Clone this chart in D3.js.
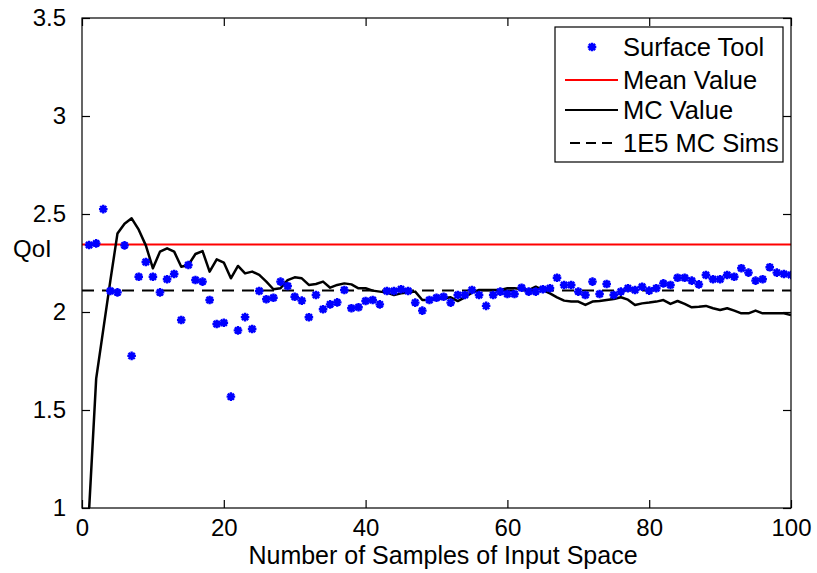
<!DOCTYPE html>
<html><head><meta charset="utf-8">
<script src="https://cdn.jsdelivr.net/npm/d3@7"></script>
<style>body{margin:0;background:#fff}svg{display:block}text{font-family:"Liberation Sans",Arial,sans-serif;fill:#000}</style>
</head><body><svg id="c" width="817" height="573"></svg>
<script>
const surfaceTool = [2.342,2.35,2.525,2.107,2.10,2.34,1.776,2.18,2.255,2.18,
2.10,2.167,2.194,1.959,2.24,2.163,2.155,2.061,1.939,1.945,
1.568,1.906,1.974,1.913,2.107,2.065,2.073,2.155,2.133,2.078,
2.058,1.973,2.087,2.014,2.039,2.049,2.112,2.019,2.024,2.056,
2.061,2.039,2.107,2.107,2.116,2.107,2.048,2.007,2.061,2.073,
2.078,2.048,2.087,2.087,2.112,2.087,2.031,2.087,2.104,2.092,
2.092,2.124,2.104,2.104,2.116,2.121,2.175,2.138,2.138,2.104,
2.087,2.155,2.092,2.143,2.087,2.104,2.121,2.112,2.129,2.109,
2.121,2.146,2.138,2.175,2.175,2.160,2.141,2.189,2.167,2.167,
2.189,2.180,2.223,2.201,2.160,2.167,2.228,2.201,2.194,2.189];
const mcValue = [0.99,1.66,1.91,2.16,2.40,2.45,2.478,2.42,2.34,2.223,
2.308,2.325,2.308,2.231,2.240,2.296,2.311,2.206,2.269,2.252,
2.172,2.235,2.197,2.206,2.189,2.155,2.116,2.121,2.163,2.177,
2.172,2.138,2.143,2.155,2.124,2.138,2.146,2.141,2.121,2.121,
2.109,2.104,2.099,2.087,2.095,2.099,2.104,2.061,2.061,2.068,
2.070,2.075,2.056,2.075,2.099,2.112,2.112,2.112,2.112,2.121,
2.121,2.117,2.112,2.129,2.112,2.095,2.075,2.058,2.053,2.053,
2.036,2.053,2.056,2.061,2.066,2.075,2.063,2.036,2.044,2.048,
2.053,2.061,2.041,2.056,2.041,2.024,2.027,2.031,2.019,2.010,
2.019,2.007,1.993,1.993,2.007,1.993,1.993,1.993,1.993,1.985];
const meanValue = 2.345;
const mcSims1E5 = 2.11;
const xTicks = [0,20,40,60,80,100];
const yTicks = [1,1.5,2,2.5,3,3.5];
const legendLabels = ["Surface Tool","Mean Value","MC Value","1E5 MC Sims"];

const svg = d3.select("#c");
const L=82,R=791,T=18,B=508;
const x = d3.scaleLinear().domain([0,100]).range([L,R]);
const y = d3.scaleLinear().domain([1,3.5]).range([B,T]);
const FS = 24;

svg.append("defs").append("clipPath").attr("id","clip")
  .append("rect").attr("x",L).attr("y",T).attr("width",R-L).attr("height",B-T);

const idx = d3.range(1,101);
const g = svg.append("g").attr("clip-path","url(#clip)");

g.append("line").attr("x1",x(0)).attr("x2",x(100)).attr("y1",y(meanValue)).attr("y2",y(meanValue))
  .attr("stroke","#ff0000").attr("stroke-width",2);
g.append("line").attr("x1",x(0)).attr("x2",x(100)).attr("y1",y(mcSims1E5)).attr("y2",y(mcSims1E5))
  .attr("stroke","#000").attr("stroke-width",2).attr("stroke-dasharray","12,8");
g.append("path").datum(mcValue)
  .attr("d",d3.line().x((d,i)=>x(idx[i])).y(d=>y(d)))
  .attr("fill","none").attr("stroke","#000").attr("stroke-width",2.5).attr("stroke-linejoin","round");

function star(sel, cx, cy, r){
  const a = r*0.72;
  sel.append("path").attr("d",
    `M${cx-r},${cy}L${cx+r},${cy}M${cx},${cy-r}L${cx},${cy+r}M${cx-a},${cy-a}L${cx+a},${cy+a}M${cx-a},${cy+a}L${cx+a},${cy-a}`)
    .attr("stroke","#0000ff").attr("stroke-width",2.4).attr("fill","none");
}
surfaceTool.forEach((v,i)=>star(g, x(idx[i]), y(v), 4.3));

svg.append("rect").attr("x",L).attr("y",T).attr("width",R-L).attr("height",B-T)
  .attr("fill","none").attr("stroke","#000").attr("stroke-width",1.2);

const xb = svg.append("g").attr("transform",`translate(0,${B})`)
  .call(d3.axisBottom(x).tickValues(xTicks).tickSize(-8).tickPadding(11).tickFormat(d3.format("d")));
const xt = svg.append("g").attr("transform",`translate(0,${T})`)
  .call(d3.axisTop(x).tickValues(xTicks).tickSize(-8).tickFormat(""));
const yl = svg.append("g").attr("transform",`translate(${L},0)`)
  .call(d3.axisLeft(y).tickValues(yTicks).tickSize(-8).tickPadding(16).tickFormat(d=>String(d)));
const yr = svg.append("g").attr("transform",`translate(${R},0)`)
  .call(d3.axisRight(y).tickValues(yTicks).tickSize(-8).tickFormat(""));
[xb,xt,yl,yr].forEach(a=>{
  a.select(".domain").remove();
  a.selectAll(".tick line").attr("stroke","#000").attr("stroke-width",1.2);
  a.selectAll("text").attr("font-size",FS).attr("font-family","Liberation Sans, Arial, sans-serif").attr("fill","#000");
});

svg.append("text").attr("x",443).attr("y",564).attr("text-anchor","middle").attr("font-size",25)
  .text("Number of Samples of Input Space");
svg.append("text").attr("x",13).attr("y",257).attr("font-size",FS).text("QoI");

const lg = svg.append("g");
lg.append("rect").attr("x",555).attr("y",27).attr("width",228).attr("height",135)
  .attr("fill","#fff").attr("stroke","#000").attr("stroke-width",1.2);
const rows=[47,80,110,143];
star(lg, 592, rows[0], 4.3);
lg.append("line").attr("x1",565).attr("x2",618).attr("y1",rows[1]).attr("y2",rows[1]).attr("stroke","#ff0000").attr("stroke-width",2);
lg.append("line").attr("x1",565).attr("x2",618).attr("y1",rows[2]).attr("y2",rows[2]).attr("stroke","#000").attr("stroke-width",2);
lg.append("line").attr("x1",570).attr("x2",618).attr("y1",rows[3]).attr("y2",rows[3]).attr("stroke","#000").attr("stroke-width",2).attr("stroke-dasharray","10,6");
legendLabels.forEach((t,i)=>lg.append("text").attr("x",623).attr("y",rows[i]+9).attr("font-size",25.5).text(t));
</script></body></html>
